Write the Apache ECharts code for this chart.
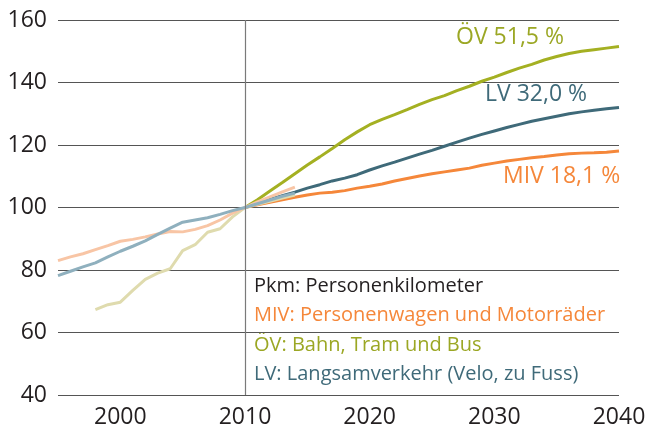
<!DOCTYPE html>
<html>
<head>
<meta charset="utf-8">
<script src="https://cdn.jsdelivr.net/npm/echarts@6/dist/echarts.min.js"></script>
<style>
  html, body { margin: 0; padding: 0; background: #fff; }
  #chart { width: 650px; height: 431px; }
</style>
</head>
<body>
<div id="chart"></div>
<script>
// historische Werte (Index 2010 = 100)
var histYears = [1995, 1996, 1997, 1998, 1999, 2000, 2001, 2002, 2003, 2004,
                 2005, 2006, 2007, 2008, 2009, 2010, 2011, 2012, 2013, 2014];
var mivHist = [83.0, 84.2, 85.2, 86.5, 87.8, 89.2, 89.8, 90.6, 91.5, 92.3,
               92.2, 93.0, 94.2, 96.0, 98.2, 100, 101.8, 103.4, 105.0, 106.5];
var lvHist  = [78.2, 79.6, 81.0, 82.3, 84.2, 86.0, 87.6, 89.3, 91.4, 93.4,
               95.3, 96.0, 96.7, 97.8, 99.0, 100, 101.2, 102.4, 103.6, 104.6];
var ovHist  = [null, null, null, 67.3, 68.9, 69.7, 73.5, 77.0, 79.0, 80.4,
               86.2, 88.1, 92.1, 93.2, 97.0, 100, 101.0, 102.0, 103.0, 104.0];

// Perspektiven 2010-2040
var projYears = [];
for (var y = 2010; y <= 2040; y++) projYears.push(y);
var ovProj  = [100, 102.5, 105.3, 108.0, 110.8, 113.6, 116.2, 118.9, 121.7, 124.2,
               126.5, 128.2, 129.7, 131.3, 133.0, 134.5, 135.8, 137.4, 138.8, 140.4,
               141.7, 143.2, 144.6, 145.8, 147.2, 148.3, 149.3, 150.0, 150.5, 151.0, 151.5];
var lvProj  = [100, 101.4, 102.6, 103.8, 104.9, 106.2, 107.3, 108.5, 109.4, 110.5,
               112.0, 113.3, 114.5, 115.8, 117.1, 118.3, 119.6, 120.9, 122.2, 123.4,
               124.5, 125.6, 126.6, 127.6, 128.4, 129.2, 130.0, 130.6, 131.1, 131.6, 132.0];
var mivProj = [100, 100.9, 101.7, 102.5, 103.3, 104.0, 104.6, 104.9, 105.4, 106.2,
               106.8, 107.5, 108.5, 109.3, 110.1, 110.8, 111.4, 112.0, 112.6, 113.5,
               114.2, 114.9, 115.4, 115.9, 116.3, 116.8, 117.2, 117.4, 117.5, 117.7, 118.1];

var legendLines = [
    ['Pkm: Personenkilometer', '#231f20'],
    ['MIV: Personenwagen und Motorräder', '#f5873a'],
    ['ÖV: Bahn, Tram und Bus', '#9ba724'],
    ['LV: Langsamverkehr (Velo, zu Fuss)', '#3f6a79']
];

function pairs(xs, ys) {
    var out = [];
    for (var i = 0; i < xs.length; i++) out.push([xs[i], ys[i]]);
    return out;
}

var FONT = '"Open Sans", Lato, sans-serif';
var chart = echarts.init(document.getElementById('chart'));

function lineSeries(name, xs, ys, color) {
    return {
        name: name,
        type: 'line',
        data: pairs(xs, ys),
        showSymbol: false,
        connectNulls: false,
        lineStyle: { color: color, width: 3 },
        itemStyle: { color: color },
        animation: false
    };
}

var series = [
    lineSeries('MIV', projYears, mivProj, '#f5873a'),
    lineSeries('LV', projYears, lvProj, '#3f6a79'),
    lineSeries('ÖV', projYears, ovProj, '#a4b022'),
    lineSeries('ÖV hist', histYears, ovHist, '#dfdbae'),
    lineSeries('MIV hist', histYears, mivHist, '#f8c5a5'),
    lineSeries('LV hist', histYears, lvHist, '#8fb0be')
];
series[0].markLine = {
    silent: true,
    symbol: 'none',
    label: { show: false },
    lineStyle: { color: '#7a7a7a', width: 1.2, type: 'solid' },
    data: [{ xAxis: 2010 }],
    animation: false
};

// Beschriftungen rechts
var graphics = [
    { type: 'text', left: 456, top: 26, style: { text: 'ÖV 51,5 %', font: '23px ' + FONT, fill: '#9ba724' } },
    { type: 'text', left: 485, top: 83, style: { text: 'LV 32,0 %', font: '23px ' + FONT, fill: '#3f6a79' } },
    { type: 'text', left: 503, top: 165, style: { text: 'MIV 18,1 %', font: '23px ' + FONT, fill: '#f5873a' } }
];
legendLines.forEach(function (l, i) {
    graphics.push({
        type: 'text', left: 254, top: 276 + i * 29.5,
        style: { text: l[0], font: '20px ' + FONT, fill: l[1] }
    });
});

chart.setOption({
    animation: false,
    grid: { left: 58, right: 31, top: 20, bottom: 36 },
    xAxis: {
        type: 'value',
        min: 1995,
        max: 2040,
        interval: 5,
        axisLine: { show: false },
        axisTick: { show: false },
        splitLine: { show: false },
        axisLabel: {
            color: '#231f20',
            fontSize: 23,
            fontFamily: FONT,
            margin: 11,
            formatter: function (v) { return v % 10 === 0 ? String(v) : ''; }
        }
    },
    yAxis: {
        type: 'value',
        min: 40,
        max: 160,
        interval: 20,
        axisLine: { show: false },
        axisTick: { show: false },
        axisLabel: { color: '#231f20', fontSize: 23, fontFamily: FONT, margin: 11 },
        splitLine: { lineStyle: { color: '#555', width: 1.2 } }
    },
    series: series,
    graphic: graphics
});
</script>
</body>
</html>
